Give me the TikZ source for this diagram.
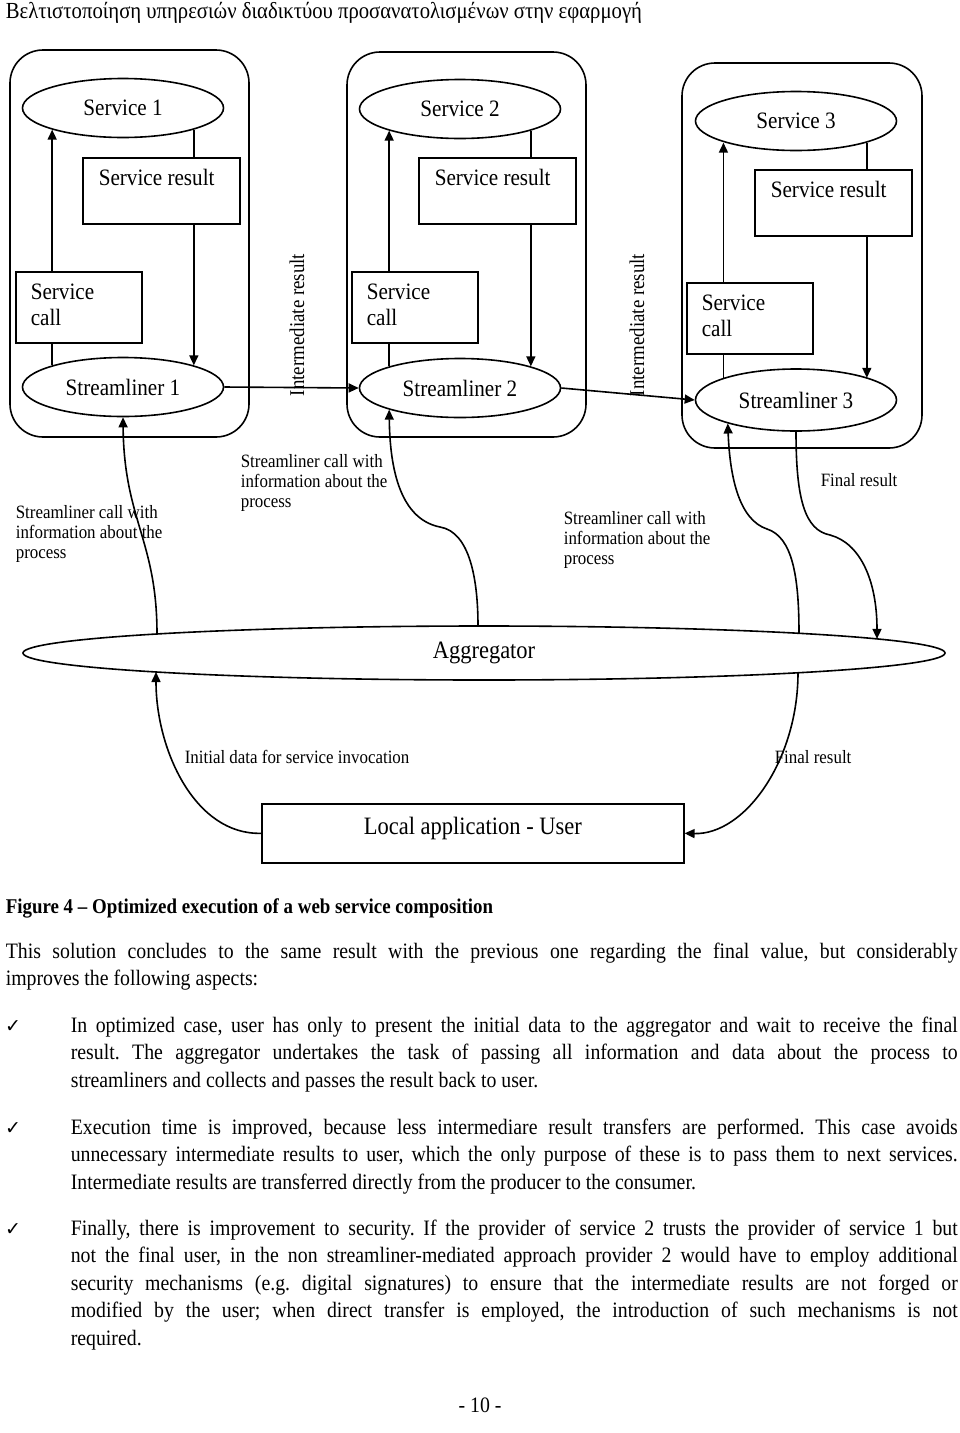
\documentclass[tikz,border=0pt]{standalone}
\usepackage{fontspec}
\setmainfont[FakeStretch=0.9]{Liberation Serif}
\newfontfamily\tickfont{DejaVu Sans}
\usetikzlibrary{shapes.geometric,arrows.meta,calc}
\hyphenpenalty=10000
\exhyphenpenalty=10000
\frenchspacing

\begin{document}
\begin{tikzpicture}[x=1pt,y=-1pt,line width=1.6pt,
		flow/.style={-{Triangle[length=10pt,width=9pt]}},
		holder/.style={draw,rounded corners=33pt},
		oval/.style={ellipse,draw,inner sep=0pt,minimum width=201pt,minimum height=59pt,font=\fontsize{23.5}{26}\selectfont},
		resbox/.style={draw,anchor=north west,text width=125pt,align=flush left,inner xsep=16pt,inner ysep=6pt,text height=22pt,text depth=32pt,font=\fontsize{23.5}{26}\selectfont},
		callbox/.style={draw,anchor=north west,text width=96pt,align=flush left,inner xsep=15pt,inner ysep=12pt,text height=16pt,text depth=31pt,font=\fontsize{23.5}{26}\selectfont},
		note/.style={anchor=base west,inner sep=0pt,text width=#1,align=flush left,font=\fontsize{18.8}{20}\selectfont},
		vnote/.style={rotate=90,inner sep=0pt,font=\fontsize{21}{24}\selectfont},
		body/.style={anchor=base west,inner sep=0pt,text width=#1,align=justify,font=\fontsize{22}{27.5}\selectfont},
		tick/.style={anchor=base,inner sep=0pt,font=\tickfont\fontsize{19}{20}\selectfont}]
	\fill[white] (0,0) rectangle (960,1433);
	\useasboundingbox (0,0) rectangle (960,1433);
	\node[anchor=west,inner sep=0pt,font=\fontsize{23}{25}\selectfont] (head) at (5,13) {Βελτιστοποίηση υπηρεσιών διαδικτύου προσανατολισμένων στην εφαρμογή};
	\draw[holder] (10,50) rectangle (249,437);
	\draw[holder] (347,52) rectangle (586,437);
	\draw[holder] (682,63) rectangle (922,448);
	\node[oval] (svc1) at (123,108) {Service 1};
	\node[oval] (svc2) at (460,109) {Service 2};
	\node[oval] (svc3) at (796,121) {Service 3};
	\node[resbox] (res1) at (82,157) {Service result};
	\node[resbox] (res2) at (418,157) {Service result};
	\node[resbox] (res3) at (754,169) {Service result};
	\node[callbox] (call1) at (15,271) {Service\\call};
	\node[callbox] (call2) at (351,271) {Service\\call};
	\node[callbox] (call3) at (686,282) {Service\\call};
	\node[oval] (str1) at (123,387) {Streamliner 1};
	\node[oval] (str2) at (460,388) {Streamliner 2};
	\node[oval,minimum height=62pt] (str3) at (796,400) {Streamliner 3};
	\foreach \i in {1,2,3}{
		\draw (str\i.163) -- (str\i.163 |- call\i.south);
		\draw[flow] (call\i.north -| str\i.163) -- (svc\i.197 -| str\i.163);
		\draw (svc\i.-17) -- (svc\i.-17 |- res\i.north);
		\draw[flow] (res\i.south -| svc\i.-17) -- (str\i.17 -| svc\i.-17);
	}
	\draw[flow] (str1.east) -- (str2.west);
	\draw[flow] (str2.east) -- (str3.west);
	\node[vnote] (ir1) at (297,325) {Intermediate result};
	\node[vnote] (ir2) at (637,325) {Intermediate result};
	\node[note=170pt] (lab1) at (15,518) {Streamliner call with\\information about the\\process};
	\node[note=170pt] (lab2) at (240,467) {Streamliner call with\\information about the\\process};
	\node[note=170pt] (lab3) at (563,524) {Streamliner call with\\information about the\\process};
	\node[note=100pt] (fin1) at (820,486) {Final result};
	\node[oval,minimum width=922pt,minimum height=54pt,font=\fontsize{25}{28}\selectfont] (agg) at (484,653) {Aggregator};
	\node[draw,anchor=north west,minimum width=422pt,inner ysep=6pt,text height=25pt,text depth=22pt,font=\fontsize{25}{28}\selectfont] (user) at (261,803) {Local application - User};
	\draw[flow] ($(agg.center)+(-327,-19)$) .. controls (157,540) and (124,520) .. (str1.south);
	\draw[flow] ($(agg.center)+(-6,-27)$) .. controls (478,580) and (470,532) .. (440,527) .. controls (405,520) and (390,480) .. (str2.197);
	\draw[flow] ($(agg.center)+(315,-19.7)$) .. controls (799,575) and (792,537) .. (767,529) .. controls (740,520) and (730,480) .. (str3.199.5);
	\draw[flow] (str3.south) .. controls (796,500) and (805,530) .. (830,535) .. controls (860,543) and (877,580) .. ($(agg.center)+(393,-14.1)$);
	\draw[flow] (user.west) .. controls (195,835) and (156,750) .. ($(agg.center)+(-328,19)$);
	\draw[flow] ($(agg.center)+(314,19.7)$) .. controls (798,760) and (745,835) .. (user.east);
	\node[note=300pt] (init) at (184,763) {Initial data for service invocation};
	\node[note=100pt] (fin2) at (774,763) {Final result};
	\node[anchor=base west,inner sep=0pt,font=\bfseries\fontsize{21}{24}\selectfont] (cap) at (5,913) {Figure 4 – Optimized execution of a web service composition};
	\node[body=952pt] (intro) at (5,958) {This solution concludes to the same result with the previous one regarding the final value, but considerably\linebreak improves the following aspects:};
	\node[tick] (tick1) at (13,1032) {✓};
	\node[body=887pt] (item1) at (70,1032) {In optimized case, user has only to present the initial data to the aggregator and wait to receive the final\linebreak result. The aggregator undertakes the task of passing all information and data about the process to\linebreak streamliners and collects and passes the result back to user.};
	\node[tick] (tick2) at (13,1134) {✓};
	\node[body=887pt] (item2) at (70,1134) {Execution time is improved, because less intermediare result transfers are performed. This case avoids\linebreak unnecessary intermediate results to user, which the only purpose of these is to pass them to next services.\linebreak Intermediate results are transferred directly from the producer to the consumer.};
	\node[tick] (tick3) at (13,1235) {✓};
	\node[body=887pt] (item3) at (70,1235) {Finally, there is improvement to security. If the provider of service 2 trusts the provider of service 1 but\linebreak not the final user, in the non streamliner-mediated approach provider 2 would have to employ additional\linebreak security mechanisms (e.g. digital signatures) to ensure that the intermediate results are not forged or\linebreak modified by the user; when direct transfer is employed, the introduction of such mechanisms is not\linebreak required.};
	\node[anchor=base,inner sep=0pt,font=\fontsize{22}{24}\selectfont] (foot) at (480,1412) {- 10 -};
\end{tikzpicture}
\end{document}
